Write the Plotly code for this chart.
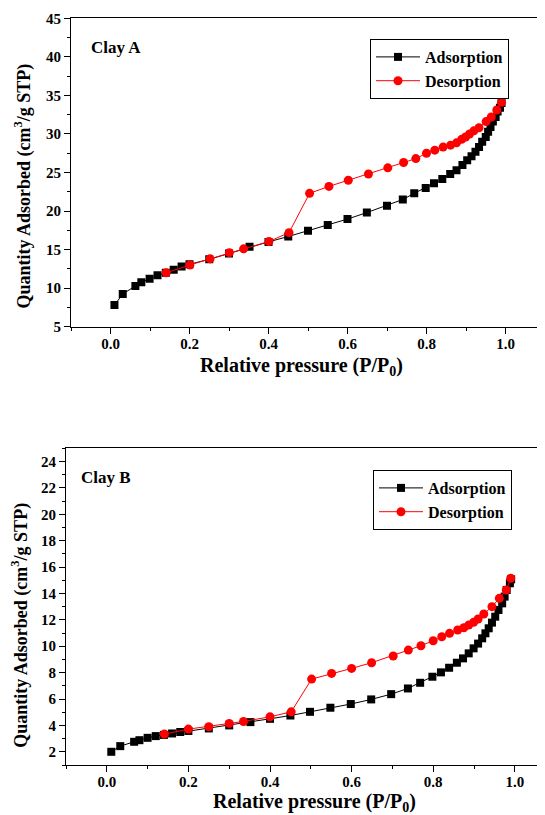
import plotly.graph_objects as go

# ---- Data: Clay A ----
clayA_ads_x = [0.010, 0.031, 0.063, 0.078, 0.099, 0.119, 0.140, 0.160, 0.180, 0.200, 0.250, 0.300,
               0.352, 0.400, 0.450, 0.500, 0.550, 0.600, 0.649, 0.700, 0.740, 0.769, 0.798, 0.819,
               0.840, 0.860, 0.876, 0.891, 0.903, 0.914, 0.924, 0.933, 0.941, 0.950, 0.956, 0.962,
               0.968, 0.975, 0.980, 0.986, 0.990]
clayA_ads_y = [7.8, 9.24, 10.28, 10.76, 11.23, 11.66, 12.0, 12.4, 12.8, 13.1, 13.74, 14.5,
               15.37, 16.0, 16.7, 17.45, 18.2, 18.96, 19.8, 20.7, 21.5, 22.3, 23.0, 23.6,
               24.15, 24.8, 25.3, 25.96, 26.6, 27.1, 27.7, 28.3, 29.0, 29.6, 30.3, 30.9,
               31.6, 32.2, 32.9, 33.4, 34.0]
clayA_des_x = [0.990, 0.978, 0.964, 0.951, 0.933, 0.920, 0.909, 0.899, 0.889, 0.876, 0.861, 0.842,
               0.821, 0.800, 0.773, 0.742, 0.702, 0.653, 0.602, 0.553, 0.504, 0.452, 0.401, 0.337,
               0.301, 0.252, 0.201, 0.141]
clayA_des_y = [34.1, 33.1, 32.2, 31.6, 30.8, 30.4, 30.0, 29.6, 29.3, 28.85, 28.55, 28.3,
               27.9, 27.5, 26.8, 26.3, 25.6, 24.8, 24.0, 23.2, 22.3, 17.2, 16.05, 15.1,
               14.6, 13.8, 13.0, 12.0]

# ---- Data: Clay B ----
clayB_ads_x = [0.011, 0.033, 0.067, 0.080, 0.100, 0.120, 0.140, 0.160, 0.180, 0.200, 0.250, 0.300,
               0.352, 0.400, 0.450, 0.498, 0.548, 0.598, 0.648, 0.697, 0.738, 0.768, 0.798, 0.819,
               0.839, 0.858, 0.873, 0.887, 0.899, 0.910, 0.920, 0.928, 0.936, 0.944, 0.952, 0.960,
               0.969, 0.975, 0.980, 0.988, 0.991]
clayB_ads_y = [2.0, 2.43, 2.76, 2.88, 3.06, 3.19, 3.28, 3.39, 3.5, 3.58, 3.77, 4.0,
               4.25, 4.5, 4.75, 5.03, 5.34, 5.62, 5.97, 6.37, 6.8, 7.23, 7.69, 8.02,
               8.37, 8.75, 9.08, 9.46, 9.84, 10.2, 10.6, 10.98, 11.36, 11.79, 12.24, 12.75,
               13.25, 13.76, 14.26, 14.77, 15.07]
clayB_des_x = [0.990, 0.979, 0.962, 0.944, 0.924, 0.910, 0.899, 0.887, 0.875, 0.860, 0.840, 0.821,
               0.800, 0.770, 0.739, 0.702, 0.649, 0.600, 0.551, 0.502, 0.452, 0.400, 0.335, 0.300,
               0.250, 0.200, 0.141]
clayB_des_y = [15.15, 14.26, 13.63, 13.0, 12.44, 12.06, 11.81, 11.6, 11.4, 11.23, 10.98, 10.72,
               10.42, 10.04, 9.71, 9.26, 8.75, 8.32, 7.94, 7.51, 5.03, 4.65, 4.3, 4.15,
               3.9, 3.72, 3.34]

panel_labels = ["Clay A", "Clay B"]
series_names = ["Adsorption", "Desorption"]
x_title = "Relative pressure (P/P<sub>0</sub>)"
y_title = "Quantity Adsorbed (cm<sup>3</sup>/g STP)"

FONT = "Liberation Serif"
OFF = 8                      # default body margin of the page
W, H = 545 - OFF, 815 - OFF  # figure fills the visible window


def px(x):
    """window pixel x -> paper fraction"""
    return (x - OFF) / W


def py(y):
    """window pixel y (from top) -> paper fraction"""
    return (H - (y - OFF)) / H


fig = go.Figure()


def add_pair(ax, ay, dx, dy, xa, ya, leg):
    fig.add_trace(go.Scatter(x=ax, y=ay, mode="lines+markers", name="<b>%s</b>" % series_names[0],
                             line=dict(color="black", width=1),
                             marker=dict(symbol="square", size=8, color="black"),
                             xaxis=xa, yaxis=ya, legend=leg, showlegend=True))
    fig.add_trace(go.Scatter(x=dx, y=dy, mode="lines+markers", name="<b>%s</b>" % series_names[1],
                             line=dict(color="#ff0000", width=1),
                             marker=dict(symbol="circle", size=9, color="#ff0000"),
                             xaxis=xa, yaxis=ya, legend=leg, showlegend=True))


add_pair(clayA_ads_x, clayA_ads_y, clayA_des_x, clayA_des_y, "x", "y", "legend")
add_pair(clayB_ads_x, clayB_ads_y, clayB_des_x, clayB_des_y, "x2", "y2", "legend2")

tickfont = dict(family=FONT, size=15, color="black", weight="bold")


def xaxis_cfg(domain, rng, anchor):
    return dict(domain=domain, range=rng, anchor=anchor, showgrid=False, zeroline=False,
                automargin=False, ticklabelstandoff=-3,
                showline=True, linecolor="black", linewidth=1.2, mirror=True,
                ticks="outside", ticklen=6, tickwidth=1.2, tickcolor="black",
                tick0=0, dtick=0.2, tickformat=".1f", tickfont=tickfont,
                minor=dict(dtick=0.1, tick0=0, ticks="outside", ticklen=3, tickwidth=1.2,
                           tickcolor="black", showgrid=False))


def yaxis_cfg(domain, rng, anchor, dtick, mdtick):
    return dict(domain=domain, range=rng, anchor=anchor, showgrid=False, zeroline=False,
                automargin=False,
                showline=True, linecolor="black", linewidth=1.2, mirror=False,
                ticks="outside", ticklen=6, tickwidth=1.2, tickcolor="black",
                tick0=0, dtick=dtick, tickfont=tickfont,
                minor=dict(dtick=mdtick, tick0=0, ticks="outside", ticklen=3, tickwidth=1.2,
                           tickcolor="black", showgrid=False))


legfont = dict(family=FONT, size=16, color="black", weight="bold")

fig.update_layout(
    width=W, height=H, margin=dict(l=0, r=0, t=0, b=0, autoexpand=False),
    paper_bgcolor="white", plot_bgcolor="white",
    font=dict(family=FONT, color="black"),
    xaxis=xaxis_cfg([px(71), 1.0], [-0.1, 1.1], "y"),
    yaxis=yaxis_cfg([py(326.7), py(18.3)], [5, 45], "x", 5, 2.5),
    xaxis2=xaxis_cfg([px(66), 1.0], [-0.1, 1.074], "y2"),
    yaxis2=yaxis_cfg([py(765), py(448.3)], [1, 25], "x2", 2, 1),
    legend=dict(x=px(370), y=py(39), xanchor="left", yanchor="top",
                bordercolor="black", borderwidth=1, bgcolor="white",
                itemwidth=44, font=legfont),
    legend2=dict(x=px(373), y=py(470), xanchor="left", yanchor="top",
                 bordercolor="black", borderwidth=1, bgcolor="white",
                 itemwidth=44, font=legfont),
    showlegend=True,
)

ytitle_font = dict(family=FONT, size=18, color="black", weight="bold")
xtitle_font = dict(family=FONT, size=20, color="black", weight="bold")
annos = [
    dict(text=y_title, x=px(23), y=py(186.5), textangle=-90, font=ytitle_font),
    dict(text=y_title, x=px(20), y=py(625.7), textangle=-90, font=ytitle_font),
    dict(text=x_title, x=px(301), y=py(367), font=xtitle_font),
    dict(text=x_title, x=px(314), y=py(802), font=xtitle_font),
]
for a in annos:
    fig.add_annotation(xref="paper", yref="paper", showarrow=False, xanchor="center",
                       yanchor="middle", **a)

label_font = dict(family=FONT, size=17, color="black", weight="bold")
fig.add_annotation(text=panel_labels[0], xref="paper", yref="paper", x=px(89), y=py(48),
                   xanchor="left", yanchor="middle", showarrow=False, font=label_font)
fig.add_annotation(text=panel_labels[1], xref="paper", yref="paper", x=px(79), y=py(477.7),
                   xanchor="left", yanchor="middle", showarrow=False, font=label_font)

fig.write_html("out.html")
